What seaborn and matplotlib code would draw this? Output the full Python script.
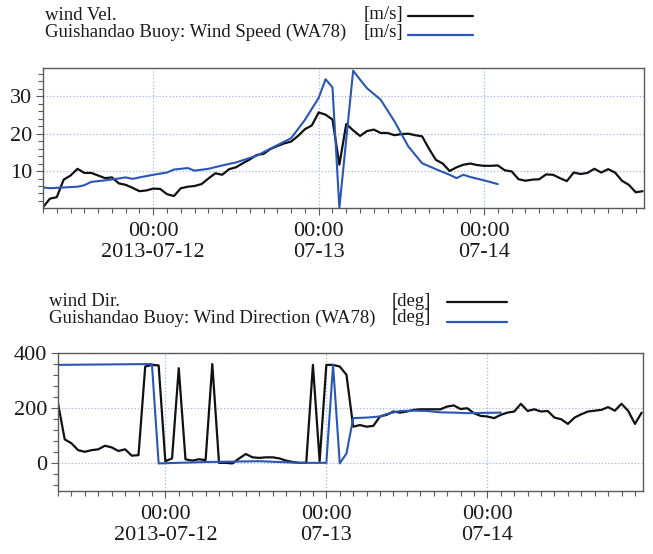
import numpy as np
import pandas as pd
import matplotlib
matplotlib.use("Agg")
import matplotlib.pyplot as plt
import matplotlib.dates as mdates
from matplotlib.lines import Line2D
from matplotlib.ticker import MultipleLocator
import seaborn as sns

# ---------------- data ----------------
start_time = "2013-07-11 08:00"
end_time = "2013-07-14 23:12"

# model wind speed, hourly from start_time [m/s]
vel_model = [0.3, 2.6, 3.0, 7.7, 8.8, 10.6, 9.5, 9.5, 8.8, 8.1,
             8.3, 6.7, 6.3, 5.5, 4.6, 4.8, 5.3, 5.2, 3.8, 3.3,
             5.4, 5.8, 6.0, 6.5, 8.0, 9.4, 9.0, 10.5, 11.0, 12.1,
             13.1, 14.3, 14.6, 15.9, 16.7, 17.4, 17.9, 19.4, 21.2, 22.2,
             25.7, 25.1, 23.8, 11.7, 22.6, 20.9, 19.4, 20.7, 21.1, 20.2,
             20.2, 19.6, 19.9, 20.0, 19.6, 19.3, 16.0, 13.0, 12.0, 10.0,
             11.0, 11.7, 12.0, 11.6, 11.4, 11.4, 11.5, 10.2, 9.9, 7.8,
             7.4, 7.7, 7.8, 9.1, 9.0, 8.1, 7.3, 9.6, 9.2, 9.5,
             10.6, 9.6, 10.5, 9.6, 7.4, 6.3, 4.3, 4.6]

# buoy wind speed (hours after start_time, value)
vel_buoy_hours = [0, 1, 3, 5, 6, 7, 9, 11, 12, 13, 14, 16, 18, 19, 21, 22, 24,
                  26, 28, 30, 31, 33, 36, 38, 40, 41, 42, 43, 45, 46, 47, 49,
                  51, 53, 55, 57, 59, 60, 61, 62, 64, 66]
vel_buoy = [5.6, 5.4, 5.6, 5.8, 6.2, 7.1, 7.5, 8.0, 8.3, 7.9, 8.3, 9.0, 9.6,
            10.4, 10.8, 10.1, 10.6, 11.5, 12.3, 13.5, 14.1, 16.0, 18.8, 23.7,
            29.6, 34.6, 32.4, 0.1, 36.9, 34.5, 32.2, 29.1, 23.3, 16.6, 12.1,
            10.5, 9.0, 8.1, 9.0, 8.4, 7.5, 6.5]

# model wind direction, hourly from start_time [deg]
dir_model = [218, 87, 73, 48, 42, 48, 51, 64, 58, 45,
             51, 28, 30, 351, 357, 355, 8, 18, 345, 15,
             10, 15, 12, 360, 2, 2, 0, 18, 34, 22,
             20, 22, 22, 18, 10, 5, 2, 2, 357, 8,
             357, 357, 351, 321, 133, 139, 133, 136, 170, 176,
             188, 184, 188, 194, 196, 196, 196, 196, 206, 210,
             197, 200, 182, 172, 170, 164, 176, 184, 188, 216,
             190, 196, 188, 190, 166, 160, 143, 166, 178, 188,
             191, 194, 204, 191, 216, 190, 143, 184]

# buoy wind direction (hours after start_time, value)
dir_buoy_hours = [0, 14, 15, 22, 30, 36, 40, 41, 42, 43, 44, 46, 48, 49, 51,
                  53, 55, 57, 59, 61, 66]
dir_buoy = [357, 360, 0, 5, 8, 2, 2, 357, 0, 36, 164, 166, 170, 179, 190,
            191, 190, 185, 184, 182, 184]

major_ticks = ["2013-07-12 00:00", "2013-07-13 00:00", "2013-07-14 00:00"]
major_labels = ["00:00\n2013-07-12", "00:00\n07-13", "00:00\n07-14"]

legend_top = [("wind Vel.", "[m/s]"),
              ("Guishandao Buoy: Wind Speed (WA78)", "[m/s]")]
legend_bot = [("wind Dir.", "[deg]"),
              ("Guishandao Buoy: Wind Direction (WA78)", "[deg]")]

# ---------------- build frames ----------------
t0 = pd.Timestamp(start_time)
df_vm = pd.DataFrame({"time": pd.date_range(t0, periods=len(vel_model), freq="h"),
                      "value": vel_model})
df_vb = pd.DataFrame({"time": t0 + pd.to_timedelta(vel_buoy_hours, unit="h"),
                      "value": vel_buoy})
df_dm = pd.DataFrame({"time": pd.date_range(t0, periods=len(dir_model), freq="h"),
                      "value": dir_model})
df_db = pd.DataFrame({"time": t0 + pd.to_timedelta(dir_buoy_hours, unit="h"),
                      "value": dir_buoy})

# ---------------- style ----------------
sns.set_style("ticks")
plt.rcParams["font.family"] = ["Liberation Serif", "DejaVu Serif"]
plt.rcParams["axes.edgecolor"] = "#5a5a5a"
plt.rcParams["xtick.color"] = "#5a5a5a"
plt.rcParams["ytick.color"] = "#5a5a5a"
plt.rcParams["xtick.labelcolor"] = "#1a1a1a"
plt.rcParams["ytick.labelcolor"] = "#1a1a1a"

BLACK = "#111111"
BLUE = "#2a56b4"
GRID = "#9fb7e3"
W, H = 653, 554

fig = plt.figure(figsize=(W / 100, H / 100), dpi=100)
ax1 = fig.add_axes([43 / W, 1 - 208 / H, 601 / W, 140 / H])
ax2 = fig.add_axes([58 / W, 1 - 491 / H, 585 / W, 138 / H])

sns.lineplot(data=df_vm, x="time", y="value", ax=ax1, color=BLACK, linewidth=1.6)
sns.lineplot(data=df_vb, x="time", y="value", ax=ax1, color=BLUE, linewidth=1.5)
sns.lineplot(data=df_dm, x="time", y="value", ax=ax2, color=BLACK, linewidth=1.6)
sns.lineplot(data=df_db, x="time", y="value", ax=ax2, color=BLUE, linewidth=1.5)

ax1.set_ylim(0.1, 37.6)
ax1.yaxis.set_major_locator(MultipleLocator(10))
ax1.yaxis.set_minor_locator(MultipleLocator(2))
ax2.set_ylim(-100, 400)
ax2.yaxis.set_major_locator(MultipleLocator(200))
ax2.yaxis.set_minor_locator(MultipleLocator(40))

tick_times = pd.to_datetime(major_ticks)
for ax in (ax1, ax2):
    ax.set_xlim(t0, pd.Timestamp(end_time))
    ax.set_xticks(tick_times)
    ax.set_xticklabels(major_labels, linespacing=1.15)
    ax.xaxis.set_minor_locator(mdates.HourLocator(byhour=range(0, 24, 2)))
    ax.set_xlabel("")
    ax.set_ylabel("")
    ax.grid(True, which="major", color=GRID, linestyle=":", linewidth=0.9)
    ax.tick_params(axis="both", which="major", labelsize=16, length=5, width=0.8)
    ax.tick_params(axis="both", which="minor", length=3.5, width=0.8)
    ax.tick_params(axis="x", which="major", pad=5)
    ax.tick_params(axis="y", which="major", pad=3)
    for s in ax.spines.values():
        s.set_visible(True)
        s.set_linewidth(1.0)


def legend_rows(rows, colors, x_left, x_unit, x_l0, x_l1, ys_base, ys_line):
    for (lab, unit), c, yb, yl in zip(rows, colors, ys_base, ys_line):
        fig.text(x_left / W, 1 - yb / H, lab, ha="left", va="baseline",
                 fontsize=13.5, color="#1a1a1a")
        fig.text(x_unit / W, 1 - yb / H, unit, ha="right", va="baseline",
                 fontsize=13.5, color="#1a1a1a")
        fig.add_artist(Line2D([x_l0 / W, x_l1 / W], [1 - yl / H] * 2, color=c,
                              linewidth=1.6, transform=fig.transFigure))


legend_rows(legend_top, [BLACK, BLUE], 45, 403, 408, 473, [19.5, 36.5], [15.7, 35])
legend_rows(legend_bot, [BLACK, BLUE], 49, 431, 447, 507, [305.5, 322.5], [301.7, 321.7])

fig.savefig("out.png", dpi=100)
